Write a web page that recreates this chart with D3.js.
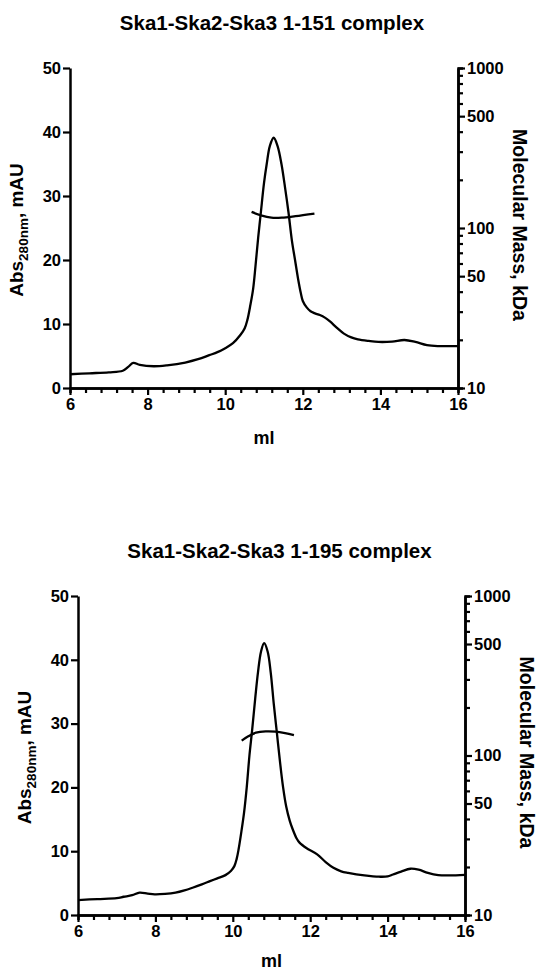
<!DOCTYPE html>
<html>
<head>
<meta charset="utf-8">
<script src="https://cdn.jsdelivr.net/npm/d3@7"></script>
<style>
  body { margin: 0; background: #fff; }
  svg text { font-family: "Liberation Sans", Arial, sans-serif; font-weight: bold; fill: #000; }
</style>
</head>
<body>
<div id="chart"></div>
<script>
// chromatogram 1 (1-151)
var ml1 = [6.0, 6.5, 7.0, 7.36, 7.5, 7.63, 7.8, 8.16, 8.5, 8.97, 9.3, 9.59, 9.8, 9.99, 10.2, 10.39, 10.5, 10.57, 10.65, 10.72, 10.78, 10.85, 10.92, 11.0, 11.07, 11.15, 11.25, 11.35, 11.45, 11.55, 11.63, 11.72, 11.8, 11.88, 11.95, 12.0, 12.1, 12.2, 12.3, 12.44, 12.57, 12.7, 12.88, 13.06, 13.25, 13.42, 13.7, 13.95, 14.3, 14.62, 14.9, 15.2, 15.5, 16.0];
var abs1 = [2.15, 2.3, 2.45, 2.7, 3.3, 3.93, 3.6, 3.4, 3.55, 3.98, 4.5, 5.13, 5.6, 6.18, 7.0, 8.27, 9.3, 10.6, 13, 15.5, 19, 23.5, 27.5, 32, 35, 37.8, 39.1, 37.8, 35, 31, 27.5, 23, 20, 17, 14.8, 13.6, 12.6, 12.0, 11.7, 11.4, 11.0, 10.4, 9.4, 8.5, 7.9, 7.6, 7.35, 7.2, 7.25, 7.5, 7.2, 6.7, 6.55, 6.55];
var mwMl1 = [10.68, 10.92, 11.19, 11.46, 11.81, 12.3];
var mw1 = [126, 120, 116, 116, 118.5, 123];

// chromatogram 2 (1-195)
var ml2 = [6.0, 6.5, 7.0, 7.18, 7.4, 7.59, 7.8, 7.98, 8.25, 8.52, 8.75, 8.96, 9.2, 9.41, 9.6, 9.81, 9.95, 10.04, 10.1, 10.15, 10.22, 10.29, 10.36, 10.43, 10.5, 10.58, 10.65, 10.73, 10.81, 10.9, 10.98, 11.06, 11.14, 11.22, 11.3, 11.38, 11.47, 11.55, 11.65, 11.73, 11.9, 12.18, 12.4, 12.6, 12.8, 12.98, 13.4, 13.79, 14.0, 14.14, 14.35, 14.59, 14.8, 15.04, 15.31, 15.6, 16.0];
var abs2 = [2.34, 2.5, 2.65, 2.86, 3.1, 3.5, 3.35, 3.23, 3.3, 3.5, 3.85, 4.27, 4.8, 5.3, 5.75, 6.25, 6.9, 7.66, 8.8, 10.3, 13, 16, 20, 25, 29, 34, 38, 41.3, 42.6, 41.3, 38, 33, 28.5, 24, 20, 17, 14.8, 13.4, 12.0, 11.3, 10.5, 9.5, 8.3, 7.4, 6.85, 6.6, 6.2, 6.0, 6.05, 6.35, 6.8, 7.25, 7.1, 6.6, 6.25, 6.2, 6.3];
var mwMl2 = [10.23, 10.4, 10.6, 10.85, 11.1, 11.35, 11.58];
var mw2 = [124, 132, 139, 141.5, 141, 138, 134];

var titles = ["Ska1-Ska2-Ska3 1-151 complex", "Ska1-Ska2-Ska3 1-195 complex"];
var xTicks = [6, 8, 10, 12, 14, 16];
var absTicks = [0, 10, 20, 30, 40, 50];
var mwTicks = [10, 50, 100, 500, 1000];

var svg = d3.select("#chart").append("svg")
    .attr("width", 542)
    .attr("height", 971);

function drawPanel(p) {
    var g = svg.append("g");

    var x = d3.scaleLinear().domain([6, 16]).range([p.left, p.right]);
    var y = d3.scaleLinear().domain([0, 50]).range([p.bottom, p.top]);
    var yMw = d3.scaleLog().domain([10, 1000]).range([p.bottom, p.top]);

    // minor ticks first, under the main axes
    var xMinor = d3.range(6, 16.001, 0.4).filter(function(v) {
        return Math.abs(v / 2 - Math.round(v / 2)) > 0.01;
    });
    g.append("g")
        .attr("transform", "translate(0," + p.bottom + ")")
        .call(d3.axisBottom(x).tickValues(xMinor).tickSize(5).tickFormat(""))
        .call(styleAxis);

    var mwMinor = [20, 30, 40, 60, 70, 80, 90, 200, 300, 400, 600, 700, 800, 900];
    g.append("g")
        .attr("transform", "translate(" + p.right + ",0)")
        .call(d3.axisRight(yMw).tickValues(mwMinor).tickSize(5).tickFormat(""))
        .call(styleAxis);

    g.append("g")
        .attr("transform", "translate(0," + p.bottom + ")")
        .call(d3.axisBottom(x).tickValues(xTicks).tickSize(7).tickPadding(3).tickSizeOuter(0))
        .call(styleAxis);

    g.append("g")
        .attr("transform", "translate(" + p.left + ",0)")
        .call(d3.axisLeft(y).tickValues(absTicks).tickSize(7).tickPadding(2).tickSizeOuter(0))
        .call(styleAxis);

    g.append("g")
        .attr("transform", "translate(" + p.right + ",0)")
        .call(d3.axisRight(yMw).tickValues(mwTicks).tickFormat(d3.format("d")).tickSize(7).tickPadding(2).tickSizeOuter(0))
        .call(styleAxis);

    var line = d3.line()
        .x(function(d) { return x(d[0]); })
        .y(function(d) { return y(d[1]); })
        .curve(d3.curveCatmullRom);

    g.append("path")
        .datum(d3.zip(p.ml, p.abs))
        .attr("d", line)
        .attr("fill", "none")
        .attr("stroke", "#000")
        .attr("stroke-width", 2.3);

    var mwLine = d3.line()
        .x(function(d) { return x(d[0]); })
        .y(function(d) { return yMw(d[1]); })
        .curve(d3.curveCatmullRom);

    g.append("path")
        .datum(d3.zip(p.mwMl, p.mw))
        .attr("d", mwLine)
        .attr("fill", "none")
        .attr("stroke", "#000")
        .attr("stroke-width", 2.3);

    var cx = (p.left + p.right) / 2;

    g.append("text")
        .attr("x", cx + 8)
        .attr("y", p.titleY)
        .attr("text-anchor", "middle")
        .style("font-size", "20.5px")
        .text(p.title);

    g.append("text")
        .attr("x", cx)
        .attr("y", p.xLabelY)
        .attr("text-anchor", "middle")
        .style("font-size", "18px")
        .text("ml");

    // left label with subscript
    var my = (p.top + p.bottom) / 2;
    var yl = g.append("text")
        .attr("transform", "translate(" + (p.left - 47) + "," + (my + 2) + ") rotate(-90)")
        .attr("text-anchor", "middle")
        .style("font-size", "19px");
    yl.append("tspan").text("Abs");
    yl.append("tspan").attr("dy", 5).style("font-size", "13.5px").text("280nm");
    yl.append("tspan").attr("dy", -5).text(", mAU");

    g.append("text")
        .attr("transform", "translate(" + (p.right + 55) + "," + (my - 3) + ") rotate(90)")
        .attr("text-anchor", "middle")
        .style("font-size", "19.5px")
        .text("Molecular Mass, kDa");
}

function styleAxis(sel) {
    sel.select(".domain").attr("stroke-width", 2.5);
    sel.selectAll(".tick line").attr("stroke-width", 2.2);
    sel.selectAll(".tick text")
        .style("font-size", "16.5px")
        .style("font-family", "'Liberation Sans', Arial, sans-serif")
        .style("font-weight", "bold");
}

drawPanel({ left: 70, right: 458, top: 68, bottom: 388, titleY: 30, xLabelY: 444, title: titles[0],
            ml: ml1, abs: abs1, mwMl: mwMl1, mw: mw1 });
drawPanel({ left: 78, right: 465, top: 596, bottom: 915, titleY: 558, xLabelY: 967, title: titles[1],
            ml: ml2, abs: abs2, mwMl: mwMl2, mw: mw2 });
</script>
</body>
</html>
